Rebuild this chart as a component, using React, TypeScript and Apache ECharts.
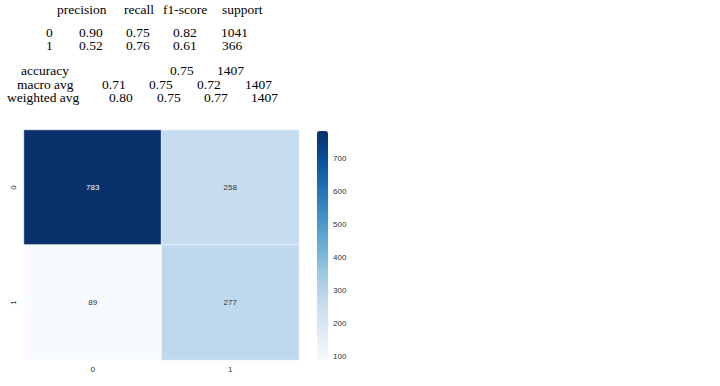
import React, { useEffect, useRef } from "react";
import * as echarts from "echarts";

// Classification report values
const reportHeaders = ["precision", "recall", "f1-score", "support"];
const classNames = ["0", "1"];
const precision = ["0.90", "0.52"];
const recall = ["0.75", "0.76"];
const f1Score = ["0.82", "0.61"];
const support = ["1041", "366"];
const accuracyRow = ["0.75", "1407"];
const macroAvg = ["0.71", "0.75", "0.72", "1407"];
const weightedAvg = ["0.80", "0.75", "0.77", "1407"];

// Confusion matrix
const trueLabels = ["0", "1"];
const predLabels = ["0", "1"];
const matrix = [
  [783, 258],
  [89, 277],
];
const colorbarTicks = [100, 200, 300, 400, 500, 600, 700];

const BLUES = [
  "#f7fbff",
  "#deebf7",
  "#c6dbef",
  "#9ecae1",
  "#6baed6",
  "#4292c6",
  "#2171b5",
  "#08519c",
  "#08306b",
];

export default function App() {
  const ref = useRef<HTMLDivElement>(null);
  useEffect(() => {
    if (!ref.current) return;
    const chart = echarts.init(ref.current, undefined, { renderer: "svg" });
    const font = '13.5px "Liberation Serif", "Times New Roman", serif';
    const t = (text: string, x: number, y: number) => ({
      type: "text",
      x,
      y,
      style: { text, font, fill: "#000", align: "left", verticalAlign: "middle" },
    });
    const graphics: any[] = [];
    const headerX = [57, 124, 163, 222];
    reportHeaders.forEach((h, i) => graphics.push(t(h, headerX[i], 9)));
    const rowY = [32, 45.5];
    classNames.forEach((c, i) => {
      graphics.push(t(c, 46, rowY[i]));
      graphics.push(t(precision[i], 79, rowY[i]));
      graphics.push(t(recall[i], 126, rowY[i]));
      graphics.push(t(f1Score[i], 173, rowY[i]));
      graphics.push(t(support[i], i === 0 ? 221 : 222, rowY[i]));
    });
    graphics.push(t("accuracy", 21, 70.5));
    graphics.push(t(accuracyRow[0], 170, 70.5));
    graphics.push(t(accuracyRow[1], 217, 70.5));
    graphics.push(t("macro avg", 17, 84));
    [102, 149, 197, 245].forEach((x, i) => graphics.push(t(macroAvg[i], x, 84)));
    graphics.push(t("weighted avg", 7, 97.5));
    [109, 157, 204, 251].forEach((x, i) => graphics.push(t(weightedAvg[i], x, 97.5)));

    const flat = matrix.flat();
    const vmin = Math.min(...flat);
    const vmax = Math.max(...flat);
    const data: any[] = [];
    matrix.forEach((row, r) =>
      row.forEach((v, c) =>
        data.push(
          v > (vmin + vmax) / 2
            ? { value: [c, r, v], label: { color: "#fff" } }
            : { value: [c, r, v] }
        )
      )
    );

    chart.setOption({
      animation: false,
      backgroundColor: "#fff",
      graphic: graphics,
      grid: [
        { left: 24, top: 130, width: 275, height: 230 },
        { left: 317, top: 131, width: 11, height: 229 },
      ],
      xAxis: [
        {
          type: "category",
          data: predLabels,
          gridIndex: 0,
          axisLine: { show: false },
          axisTick: { show: false },
          axisLabel: { fontSize: 8, color: "#333", margin: 5, fontFamily: "Liberation Sans" },
          splitArea: { show: false },
        },
        { type: "value", gridIndex: 1, show: false },
      ],
      yAxis: [
        {
          type: "category",
          data: trueLabels,
          inverse: true,
          gridIndex: 0,
          axisLine: { show: false },
          axisTick: { show: false },
          axisLabel: { fontSize: 8, color: "#333", margin: 7, rotate: 90, fontFamily: "Liberation Sans" },
        },
        {
          type: "value",
          gridIndex: 1,
          position: "right",
          min: vmin,
          max: vmax,
          axisLine: { show: false },
          axisTick: { show: false },
          splitLine: { show: false },
          axisLabel: {
            customValues: colorbarTicks,
            fontSize: 8,
            color: "#333",
            margin: 5,
            fontFamily: "Liberation Sans",
          },
        },
      ],
      visualMap: {
        type: "continuous",
        min: vmin,
        max: vmax,
        seriesIndex: 0,
        left: 317,
        top: 131,
        padding: 0,
        itemWidth: 11,
        itemHeight: 229,
        calculable: false,
        inRange: { color: BLUES },
      },
      series: [
        {
          type: "heatmap",
          xAxisIndex: 0,
          yAxisIndex: 0,
          data,
          itemStyle: { borderColor: "#fff", borderWidth: 0.6 },
          label: {
            show: true,
            fontSize: 8,
            fontFamily: "Liberation Sans",
            color: "#333",
            formatter: (p: any) => String(p.value[2]),
          },
          emphasis: { disabled: true },
        },
        {
          type: "line",
          xAxisIndex: 1,
          yAxisIndex: 1,
          data: [],
        },
      ],
    });
    return () => chart.dispose();
  }, []);
  return (
    <div
      ref={ref}
      style={{ position: "fixed", left: 0, top: 0, width: 720, height: 386 }}
    />
  );
}
